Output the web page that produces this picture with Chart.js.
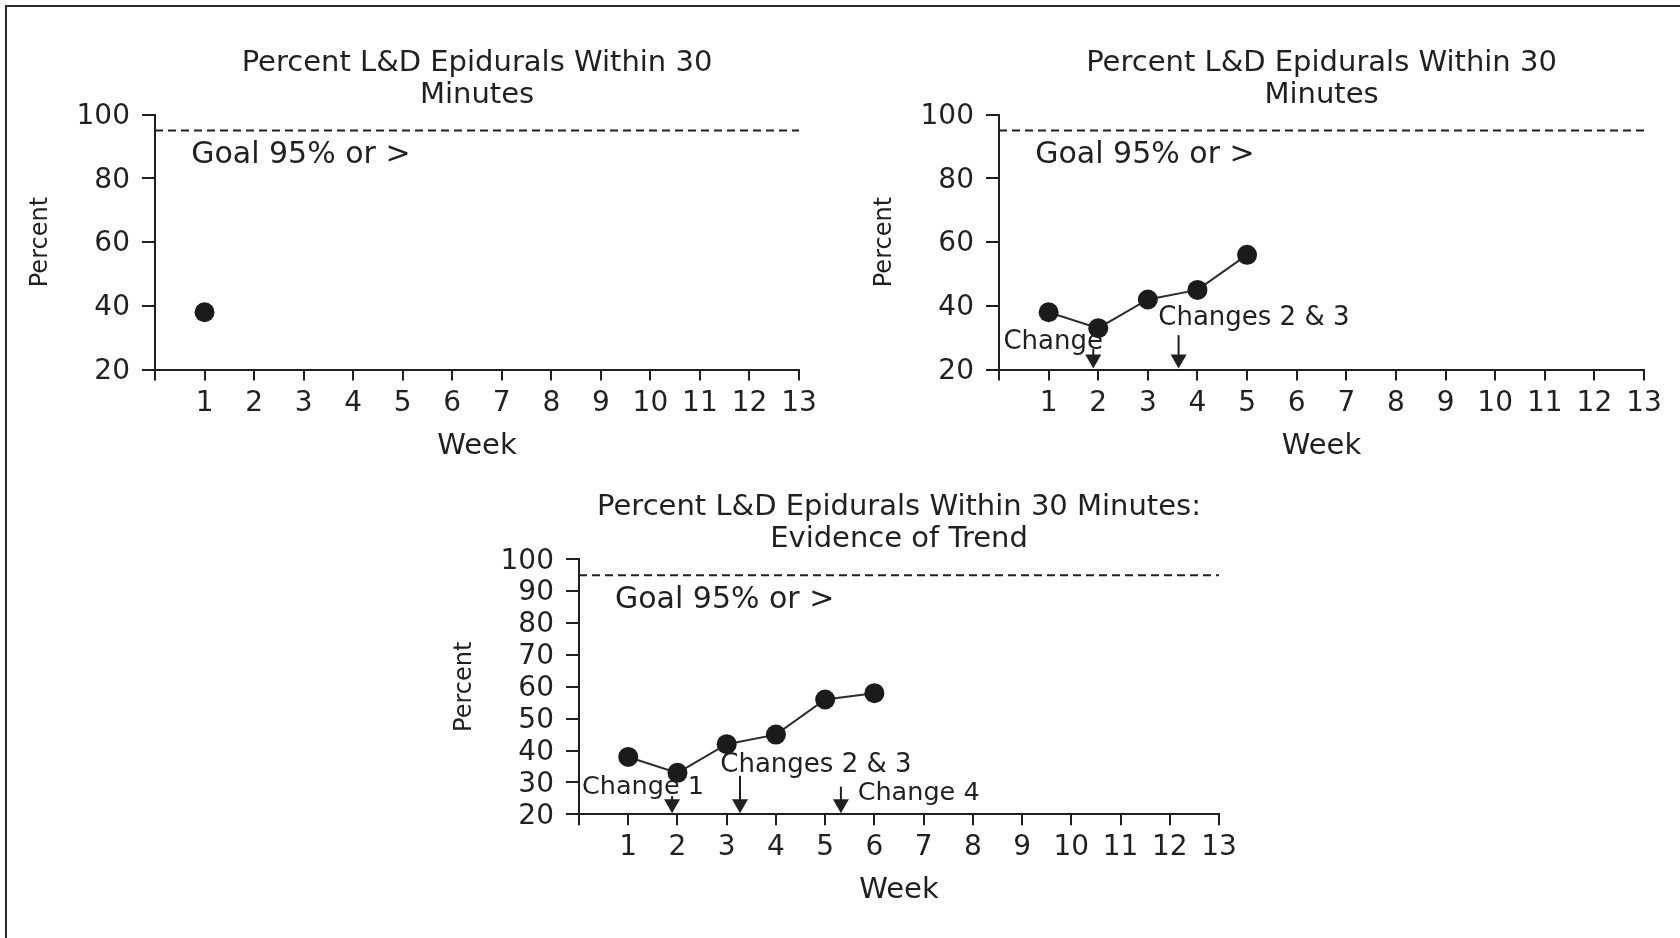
<!DOCTYPE html>
<html>
<head>
<meta charset="utf-8">
<script src="https://cdn.jsdelivr.net/npm/chart.js@4.4.1/dist/chart.umd.min.js"></script>
<style>
  html, body { margin: 0; padding: 0; background: #ffffff; }
  body { width: 1680px; height: 938px; position: relative; overflow: hidden; }
  .frame { position: absolute; left: 5px; top: 5px; width: 1700px; height: 960px;
           border-left: 2px solid #2a2a2a; border-top: 2px solid #2a2a2a; }
  canvas { position: absolute; }
</style>
</head>
<body>
<div class="frame"></div>
<canvas id="weekOne" width="840" height="470" style="left:0px;top:0px"></canvas>
<canvas id="weekFive" width="836" height="470" style="left:844px;top:0px"></canvas>
<canvas id="trend" width="836" height="468" style="left:424px;top:470px"></canvas>
<script>
// ---- data ----
const weeks = [1, 2, 3, 4, 5, 6, 7, 8, 9, 10, 11, 12, 13];
const weekTicks = [0, 1, 2, 3, 4, 5, 6, 7, 8, 9, 10, 11, 12, 13];
const percentTicksCoarse = [20, 40, 60, 80, 100];
const percentTicksFine = [20, 30, 40, 50, 60, 70, 80, 90, 100];
const percentFirstWeek = [38];
const percentFirstFiveWeeks = [38, 33, 42, 45, 56];
const percentFirstSixWeeks = [38, 33, 42, 45, 56, 58];
const goalPercent = 95;
const goalSpan = [0, 13];
const changeWeeksEarly = [1.9, 3.62];        // change 1, changes 2 & 3
const changeWeeksTrend = [1.89, 3.27, 5.32]; // change 1, changes 2 & 3, change 4

const INK = '#231f20';
const FONT = "'DejaVu Sans', sans-serif";
Chart.defaults.font.family = FONT;
Chart.defaults.color = INK;

const toPoints = vals => vals.map((v, i) => ({ x: weeks[i], y: v }));
const goalPoints = () => goalSpan.map(w => ({ x: w, y: goalPercent }));

// Text notes and "change" arrows, placed in data units through the chart's scales
const changeNotes = {
  id: 'changeNotes',
  afterDatasetsDraw(chart, args, opts) {
    const { ctx, scales: { x, y } } = chart;
    ctx.save();
    ctx.fillStyle = INK;
    ctx.strokeStyle = INK;
    ctx.textAlign = 'left';
    ctx.textBaseline = 'middle';
    (opts.labels || []).forEach(l => {
      ctx.font = `${l.size}px ${FONT}`;
      ctx.fillText(l.text, x.getPixelForValue(l.x), y.getPixelForValue(l.y));
    });
    (opts.arrows || []).forEach(a => {
      const px = x.getPixelForValue(a.x);
      const top = y.getPixelForValue(a.top);
      const tip = y.getPixelForValue(y.min) - 1;
      const headH = 14, headW = 16;
      ctx.lineWidth = 2;
      if (top < tip - headH) {
        ctx.beginPath();
        ctx.moveTo(px, top);
        ctx.lineTo(px, tip - headH + 1);
        ctx.stroke();
      }
      ctx.beginPath();
      ctx.moveTo(px - headW / 2, tip - headH);
      ctx.lineTo(px + headW / 2, tip - headH);
      ctx.lineTo(px, tip);
      ctx.closePath();
      ctx.fill();
    });
    ctx.restore();
  }
};

function makeChart(id, cfg) {
  const datasets = [
    {
      data: goalPoints(),
      borderColor: INK,
      borderWidth: 2,
      borderDash: [8, 5],
      pointRadius: 0,
      showLine: true
    },
    {
      data: toPoints(cfg.values),
      borderColor: '#2b2b2b',
      borderWidth: 2,
      pointRadius: 10,
      pointBackgroundColor: '#1b1b1b',
      pointBorderWidth: 0,
      showLine: true,
      tension: 0,
      clip: false
    }
  ];
  return new Chart(document.getElementById(id), {
    type: 'scatter',
    data: { datasets },
    plugins: [changeNotes],
    options: {
      responsive: false,
      animation: false,
      devicePixelRatio: 1,
      layout: { padding: cfg.padding },
      plugins: {
        legend: { display: false },
        tooltip: { enabled: false },
        title: {
          display: true,
          fullSize: false,
          text: cfg.title,
          color: INK,
          font: { size: 29, weight: 'normal', lineHeight: '32px' },
          padding: cfg.titlePadding
        },
        changeNotes: { labels: cfg.labels, arrows: cfg.arrows }
      },
      scales: {
        x: {
          type: 'linear',
          min: 0,
          max: 13,
          afterBuildTicks: s => { s.ticks = weekTicks.map(v => ({ value: v })); },
          afterFit: s => { s.height = 100.4; },
          ticks: {
            autoSkip: false,
            maxRotation: 0,
            padding: 6,
            color: INK,
            font: { size: 28 },
            callback: v => (v === 0 ? '' : String(v))
          },
          grid: { drawOnChartArea: false, drawTicks: true, tickLength: 11, color: INK, lineWidth: 2 },
          border: { display: true, color: INK, width: 2 },
          title: { display: true, text: 'Week', color: INK, font: { size: 29, lineHeight: '32px' }, padding: { top: 0, bottom: 8 } }
        },
        y: {
          type: 'linear',
          min: 20,
          max: 100,
          afterBuildTicks: s => { s.ticks = cfg.yTicks.map(v => ({ value: v })); },
          afterFit: s => { s.width = 155; },
          ticks: { autoSkip: false, padding: 12, labelOffset: 2, color: INK, font: { size: 28, lineHeight: 1.0 } },
          grid: { drawOnChartArea: false, drawTicks: true, tickLength: 13, color: INK, lineWidth: 2 },
          border: { display: true, color: INK, width: 2 },
          title: { display: true, text: 'Percent', color: INK, font: { size: 24, lineHeight: '28px' }, padding: { top: 27, bottom: 0 } }
        }
      }
    }
  });
}

const goalLabel = { text: 'Goal 95% or >', x: 0.73, y: 87.2, size: 30 };

makeChart('weekOne', {
  title: ['Percent L&D Epidurals Within 30', 'Minutes'],
  values: percentFirstWeek,
  yTicks: percentTicksCoarse,
  padding: { left: 0, right: 41, top: 0, bottom: 0 },
  titlePadding: { top: 47, bottom: 3.6 },
  labels: [goalLabel],
  arrows: []
});

makeChart('weekFive', {
  title: ['Percent L&D Epidurals Within 30', 'Minutes'],
  values: percentFirstFiveWeeks,
  yTicks: percentTicksCoarse,
  padding: { left: 0, right: 36, top: 0, bottom: 0 },
  titlePadding: { top: 47, bottom: 3.6 },
  labels: [
    goalLabel,
    { text: 'Change', x: 0.09, y: 28.7, size: 26 },
    { text: 'Changes 2 & 3', x: 3.21, y: 36.0, size: 26 }
  ],
  arrows: [
    { x: changeWeeksEarly[0], top: 26.5 },
    { x: changeWeeksEarly[1], top: 30.8 }
  ]
});

makeChart('trend', {
  title: ['Percent L&D Epidurals Within 30 Minutes:', 'Evidence of Trend'],
  values: percentFirstSixWeeks,
  yTicks: percentTicksFine,
  padding: { left: 0, right: 41, top: 0, bottom: 23.3 },
  titlePadding: { top: 21.6, bottom: 3.7 },
  labels: [
    goalLabel,
    { text: 'Change 1', x: 0.06, y: 28.6, size: 25.5 },
    { text: 'Changes 2 & 3', x: 2.87, y: 35.4, size: 26 },
    { text: 'Change 4', x: 5.66, y: 26.7, size: 25.5 }
  ],
  arrows: [
    { x: changeWeeksTrend[0], top: 25.7 },
    { x: changeWeeksTrend[1], top: 32.1 },
    { x: changeWeeksTrend[2], top: 28.7 }
  ]
});
</script>
</body>
</html>
